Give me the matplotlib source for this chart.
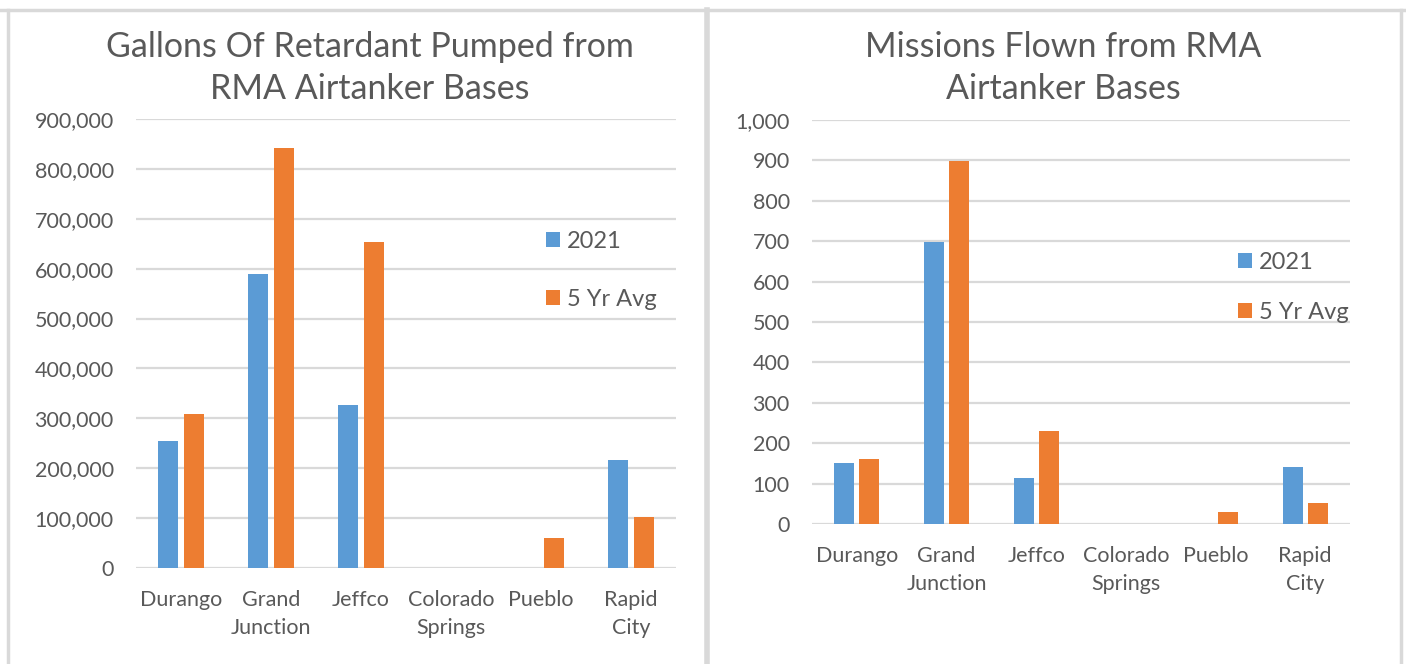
import matplotlib
matplotlib.use("Agg")
import matplotlib.pyplot as plt
import numpy as np
from matplotlib.lines import Line2D
from matplotlib.ticker import FuncFormatter

categories = ["Durango", "Grand\nJunction", "Jeffco", "Colorado\nSprings", "Pueblo", "Rapid\nCity"]
series_names = ["2021", "5 Yr Avg"]
gallons_2021 = [255000, 590000, 327000, 0, 0, 216000]
gallons_avg = [308000, 841000, 654000, 0, 61000, 102000]
missions_2021 = [150, 697, 113, 0, 0, 140]
missions_avg = [162, 898, 230, 0, 29, 53]

title_left = "Gallons Of Retardant Pumped from\nRMA Airtanker Bases"
title_right = "Missions Flown from RMA\nAirtanker Bases"

BLUE = "#5B9BD5"
ORANGE = "#ED7D31"
GRID = "#D9D9D9"
TXT = "#595959"
FONT = "Lato"

plt.rcParams["font.family"] = [FONT, "DejaVu Sans"]

W, H = 1406, 664
fig = plt.figure(figsize=(W / 100, H / 100), dpi=100)
fig.patch.set_facecolor("white")

def fx(px):
    return px / W

def fy(py):
    return 1 - py / H

# panel borders
border_kw = dict(color="#D9D9D9", lw=2.5, transform=fig.transFigure)
fig.add_artist(Line2D([fx(0), fx(W)], [fy(10), fy(10)], **border_kw))
fig.add_artist(Line2D([fx(8), fx(8)], [fy(10), fy(H)], **border_kw))
fig.add_artist(Line2D([fx(707), fx(707)], [fy(10), fy(H)], color="#D9D9D9", lw=4, transform=fig.transFigure))
fig.add_artist(Line2D([fx(1401), fx(1401)], [fy(10), fy(H)], **border_kw))


def draw(ax_rect, v1, v2, ymax, step, fmt, title, title_xy, legend_xy, lspace):
    ax = fig.add_axes(ax_rect)
    x = np.arange(len(categories))
    bw = 0.222
    off = 0.14
    ax.bar(x - off, v1, bw, color=BLUE, label=series_names[0], zorder=3)
    ax.bar(x + off, v2, bw, color=ORANGE, label=series_names[1], zorder=3)
    ax.set_xlim(-0.5, len(categories) - 0.5)
    ax.set_ylim(0, ymax)
    ax.set_yticks(np.arange(0, ymax + step / 2, step))
    ax.yaxis.set_major_formatter(FuncFormatter(fmt))
    ax.set_xticks(x)
    ax.set_xticklabels(categories, linespacing=1.5)
    ax.grid(axis="y", color=GRID, lw=1.6, zorder=0)
    ax.set_axisbelow(True)
    for s in ax.spines.values():
        s.set_visible(False)
    ax.tick_params(axis="both", length=0, labelsize=15.5, colors=TXT)
    ax.tick_params(axis="y", pad=16)
    ax.tick_params(axis="x", pad=16)
    fig.text(title_xy[0], title_xy[1], title, ha="center", va="top", fontsize=24.5,
             color=TXT, linespacing=1.4)
    leg = ax.legend(loc="upper left", bbox_to_anchor=legend_xy, bbox_transform=fig.transFigure,
                    frameon=False, fontsize=17, handlelength=0.6, handleheight=0.6,
                    handletextpad=0.3, labelspacing=lspace, borderpad=0, borderaxespad=0)
    for t in leg.get_texts():
        t.set_color(TXT)
    return ax

draw([fx(136), fy(568), fx(540), (568 - 119) / H], gallons_2021, gallons_avg,
     900000, 100000, lambda v, p: f"{int(v):,}", title_left, (fx(370), fy(31)), (fx(546), fy(231)), 1.55)
draw([fx(812), fy(524), fx(538), (524 - 120) / H], missions_2021, missions_avg,
     1000, 100, lambda v, p: f"{int(v):,}", title_right, (fx(1063), fy(31)), (fx(1238), fy(252)), 1.22)

fig.savefig("out.png", dpi=100, facecolor="white")
